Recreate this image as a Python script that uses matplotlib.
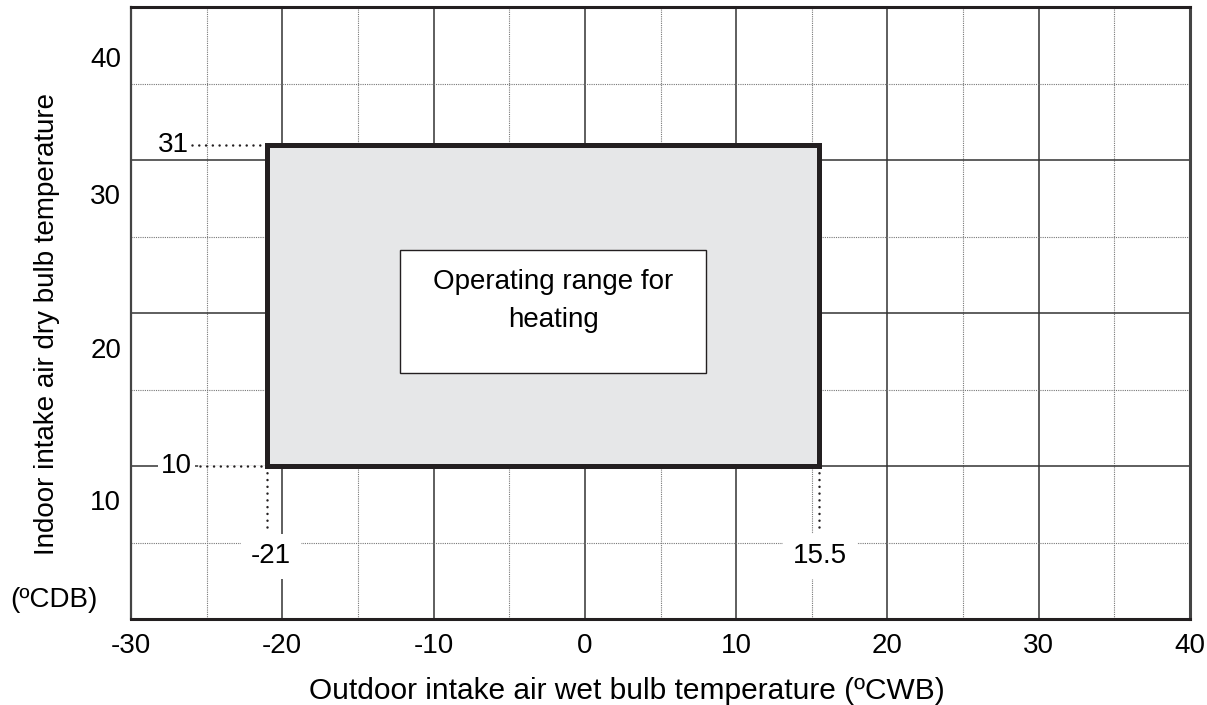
import matplotlib
matplotlib.use("Agg")
import matplotlib.pyplot as plt
from matplotlib.patches import Rectangle

plt.rcParams['font.family'] = ['Liberation Sans', 'DejaVu Sans']
plt.rcParams['axes.unicode_minus'] = False

# operating envelope for heating
wb_min, wb_max = -21, 15.5      # outdoor wet bulb (ºCWB)
db_min, db_max = 10, 31         # indoor dry bulb (ºCDB)

x_major = [-30, -20, -10, 0, 10, 20, 30, 40]
x_minor = [-25, -15, -5, 5, 15, 25, 35]
y_major = [10, 20, 30]
y_minor = [5, 15, 25, 35]
y_labels = ['10', '20', '30', '40']
y_label_pos = [7.8, 17.7, 27.8, 36.7]

dark = '#231f20'
edge = '#444444'

fig = plt.figure(figsize=(12.07, 7.05), dpi=100)
ax = fig.add_axes([131/1207, 86/705, 1059/1207, 612/705])
ax.set_xlim(-30, 40)
ax.set_ylim(0, 40)

# grid
for v in x_major[1:-1]:
    ax.axvline(v, color='#333333', lw=1.1, zorder=1)
for v in x_minor:
    ax.axvline(v, color='#777777', lw=0.8, ls=(0, (1, 1.0)), zorder=1)
for v in y_major:
    ax.axhline(v, color='#333333', lw=1.1, zorder=1)
for v in y_minor:
    ax.axhline(v, color='#777777', lw=0.8, ls=(0, (1, 1.0)), zorder=1)

ax.set_xticks(x_major)
ax.set_yticks(y_label_pos, y_labels)
ax.tick_params(axis='both', length=0, labelsize=20, colors='black')
ax.tick_params(axis='x', pad=10)
ax.tick_params(axis='y', pad=7)

for side in ['top', 'bottom']:
    ax.spines[side].set_linewidth(2.2)
    ax.spines[side].set_color(dark)
ax.spines['right'].set_linewidth(2.2)
ax.spines['right'].set_color(edge)
ax.spines['left'].set_linewidth(1.6)
ax.spines['left'].set_color(edge)

# shaded range
ax.add_patch(Rectangle((wb_min, db_min), wb_max - wb_min, db_max - db_min,
                       facecolor='#e6e7e8', edgecolor=dark, lw=3.6,
                       zorder=3, joinstyle='miter'))

# caption box inside
ax.add_patch(Rectangle((-12.2, 16.1), 20.2, 8.0, facecolor='white',
                       edgecolor=dark, lw=1.0, zorder=4))
ax.text(-2.1, 20.8, 'Operating range for\nheating', ha='center', va='center',
        fontsize=20, linespacing=1.6, zorder=5)

dots = dict(color=dark, lw=1.8, ls=(0, (0.01, 2.7)), dash_capstyle='round', zorder=4)

# 31 leader
ax.plot([-25.95, wb_min], [db_max, db_max], **dots)
ax.text(-26.2, db_max, str(db_max), ha='right', va='center', fontsize=20, zorder=5)

# 10 leader
ax.plot([-25.5, wb_min], [db_min, db_min], color='white', lw=2.0, zorder=2)
ax.plot([-25.45, wb_min], [db_min, db_min], **dots)
ax.text(-27.0, db_min, str(db_min), ha='center', va='center', fontsize=20, zorder=5,
        bbox=dict(boxstyle='square,pad=0.12', fc='white', ec='none'))

# vertical leaders to the outdoor limits
ax.plot([wb_min, wb_min], [db_min, 5.6], **dots)
ax.text(wb_min + 0.25, 4.1, str(wb_min), ha='center', va='center', fontsize=20, zorder=5,
        bbox=dict(boxstyle='square,pad=0.35', fc='white', ec='none'))
ax.plot([wb_max, wb_max], [db_min, 5.95], **dots)
ax.text(wb_max + 0.04, 4.1, str(wb_max), ha='center', va='center', fontsize=20, zorder=5,
        bbox=dict(boxstyle='square,pad=0.35', fc='white', ec='none'))

fig.text(627/1207, 1 - 691/705, 'Outdoor intake air wet bulb temperature (ºCWB)',
         ha='center', va='center', fontsize=21.5)
fig.text(47/1207, 1 - 324/705, 'Indoor intake air dry bulb temperature',
         ha='center', va='center', rotation=90, fontsize=20)
fig.text(10/1207, 1 - 600/705, '(ºCDB)', ha='left', va='center', fontsize=20)

fig.savefig('out.png', dpi=100)
